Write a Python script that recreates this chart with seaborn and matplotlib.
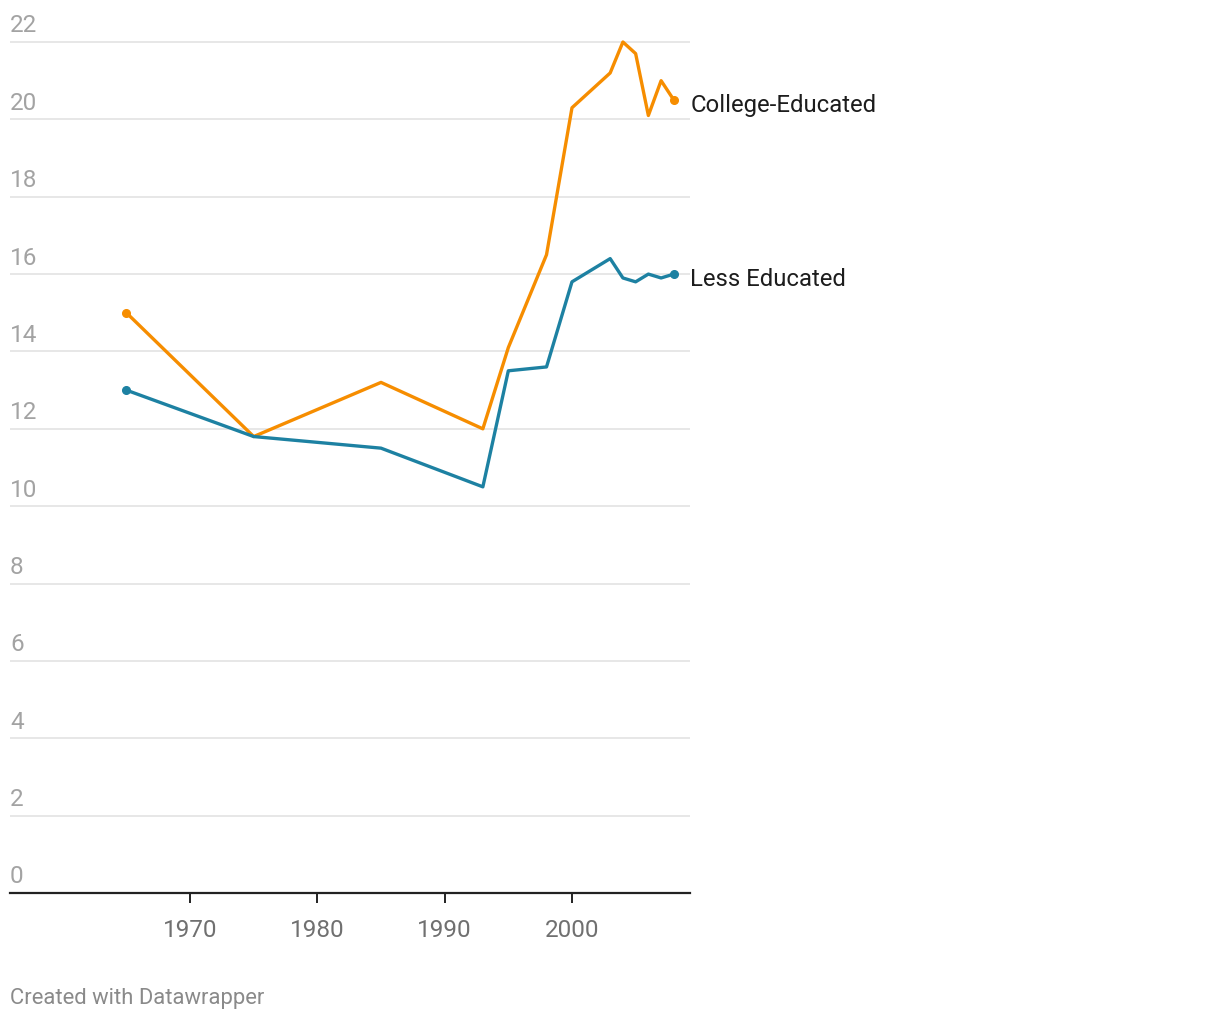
import pandas as pd
import numpy as np
import matplotlib.pyplot as plt
import seaborn as sns

years = [1965, 1975, 1985, 1993, 1995, 1998, 2000, 2003, 2004, 2005, 2006, 2007, 2008]
college = [15.0, 11.8, 13.2, 12.0, 14.1, 16.5, 20.3, 21.2, 22.0, 21.7, 20.1, 21.0, 20.5]
less_educated = [13.0, 11.8, 11.5, 10.5, 13.5, 13.6, 15.8, 16.4, 15.9, 15.8, 16.0, 15.9, 16.0]
series_names = ["College-Educated", "Less Educated"]
y_ticks = [0, 2, 4, 6, 8, 10, 12, 14, 16, 18, 20, 22]
x_ticks = [1970, 1980, 1990, 2000]

colors = {"College-Educated": "#f68d00", "Less Educated": "#1d81a2"}

df = pd.DataFrame({
    "Year": years * 2,
    "Value": college + less_educated,
    "Group": [series_names[0]] * len(years) + [series_names[1]] * len(years),
})

sns.set_style("white")
plt.rcParams["font.family"] = ["Roboto", "DejaVu Sans"]

W, H = 1220, 1020
fig = plt.figure(figsize=(W / 100, H / 100), dpi=100)
ax = fig.add_axes([10 / W, (H - 894) / H, 680 / W, (894 - 31) / H])

sns.lineplot(data=df, x="Year", y="Value", hue="Group", palette=colors,
             linewidth=2.4, legend=False, ax=ax, clip_on=False)

# end dots
for name, vals in zip(series_names, [college, less_educated]):
    ax.plot([years[0], years[-1]], [vals[0], vals[-1]], "o", color=colors[name],
            markersize=5.5, clip_on=False, zorder=5)
    ax.annotate(name, xy=(years[-1], vals[-1]), xytext=(12, -3),
                textcoords="offset points", va="center", ha="left",
                fontsize=17.2, color="#1d1d1d", annotation_clip=False)

ax.set_xlim(1955.86, 2009.27)
ax.set_ylim(0, 22 + 12 / 38.68)

# gridlines and y labels
for t in y_ticks:
    if t > 0:
        ax.axhline(t, color="#e3e3e3", linewidth=1.2, zorder=0)
    ax.annotate(str(t), xy=(0, t), xycoords=ax.get_yaxis_transform(),
                xytext=(0, 4), textcoords="offset points", ha="left", va="bottom",
                fontsize=17.5, color="#a3a3a3", annotation_clip=False)

ax.set_yticks([])
ax.set_xticks(x_ticks)
ax.set_xticklabels([str(x) for x in x_ticks], fontsize=17.5, color="#707070")
ax.tick_params(axis="x", bottom=True, direction="out", length=7, width=1.4,
               color="#222222", pad=11)
ax.set_xlabel("")
ax.set_ylabel("")

for s in ["top", "right", "left"]:
    ax.spines[s].set_visible(False)
ax.spines["bottom"].set_color("#222222")
ax.spines["bottom"].set_linewidth(1.6)

fig.text(10 / W, 1 - 999 / H, "Created with Datawrapper", fontsize=15.8,
         color="#8a8a8a", ha="left", va="center")

fig.savefig("out.png", dpi=100, facecolor="white")
